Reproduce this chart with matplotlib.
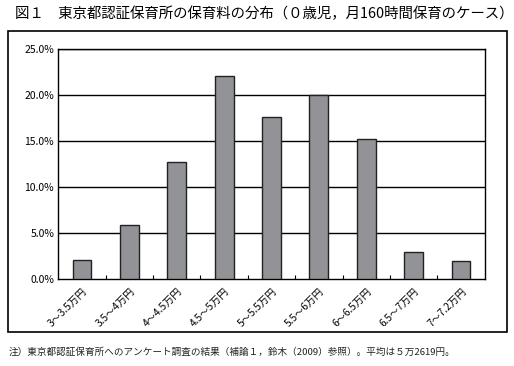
import numpy as np
import matplotlib
matplotlib.use('Agg')
from matplotlib import pyplot as plt
from matplotlib.patches import Rectangle
from matplotlib.ticker import FuncFormatter, FixedLocator

plt.rcParams['font.family'] = ['Noto Sans CJK JP', 'DejaVu Sans']

categories = ['3～3.5万円', '3.5～4万円', '4～4.5万円', '4.5～5万円', '5～5.5万円',
              '5.5～6万円', '6～6.5万円', '6.5～7万円', '7～7.2万円']
shares = [2.05, 5.85, 12.7, 22.05, 17.6, 20.05, 15.2, 2.9, 1.95]

title = '図１　東京都認証保育所の保育料の分布（０歳児，月160時間保育のケース）'
note = '注）東京都認証保育所へのアンケート調査の結果（補論１，鈴木（2009）参照）。平均は５万2619円。'

fig = plt.figure(figsize=(5.14, 3.66), dpi=100)
fig.patches.append(Rectangle((0.0156, 0.093), 0.970, 0.822, transform=fig.transFigure,
                             fill=False, edgecolor='black', linewidth=1.2))
fig.text(0.03, 0.962, title, fontsize=10.4, va='center', ha='left')
fig.text(0.016, 0.038, note, fontsize=6.9, va='center', ha='left', color='#222222')

ax = fig.add_axes([0.1134, 0.2377, 0.8296, 0.6284])
x = np.arange(len(categories))
ax.bar(x, shares, width=0.4, color='#929397', edgecolor='#222222', linewidth=1.0, zorder=3)

ax.set_xlim(-0.5, len(categories) - 0.5)
ax.set_ylim(0, 25)
ax.set_yticks(np.arange(0, 26, 5))
ax.yaxis.set_major_formatter(FuncFormatter(lambda v, p: f'{v:.1f}%'))
ax.tick_params(axis='y', length=0, labelsize=7.5, pad=3)
for v in range(5, 26, 5):
    ax.axhline(v, color='black', linewidth=1.0, zorder=1)

ax.set_xticks(x)
ax.set_xticklabels(categories, rotation=45, ha='right', rotation_mode='anchor', fontsize=7.3)
ax.tick_params(axis='x', length=0, pad=5)
ax.xaxis.set_minor_locator(FixedLocator(np.arange(0.5, len(categories) - 1, 1)))
ax.tick_params(axis='x', which='minor', direction='in', length=3, width=0.8)

for s in ax.spines.values():
    s.set_linewidth(1.0)

plt.savefig('out.png', dpi=100)
